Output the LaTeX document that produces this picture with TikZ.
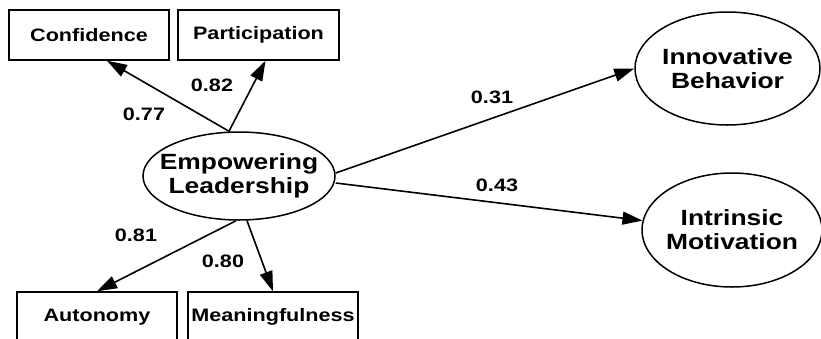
\documentclass[tikz,border=0pt]{standalone}
\usepackage{fontspec}
\setmainfont{Liberation Sans}[FakeStretch=1.2]
\usetikzlibrary{shapes.geometric,arrows.meta}
\tikzset{
  latent/.style={ellipse,draw,line width=1.5pt,inner xsep=-30pt,inner ysep=-15pt,align=center,
    font=\fontsize{22}{24}\selectfont\bfseries},
  indicator/.style={rectangle,draw,line width=1.5pt,minimum height=50pt,inner sep=0pt,
    font=\fontsize{18}{20}\selectfont\bfseries},
  loading/.style={-{Triangle[length=20pt,width=13pt]},line width=1.6pt},
  coef/.style={inner sep=0pt,font=\fontsize{18}{20}\selectfont\bfseries}
}
\begin{document}
\begin{tikzpicture}[x=1pt,y=-1pt]
\useasboundingbox (0,0) rectangle (821,338);
\begin{scope}[]
    \node[indicator,minimum width=160pt] (conf) at (89,35) {Confidence};
    \node[indicator,minimum width=161pt] (part) at (258.5,35) {Participation};
    \node[indicator,minimum width=160pt] (auto) at (97,317) {Autonomy};
    \node[indicator,minimum width=170pt] (mean) at (273,317) {Meaningfulness};
\end{scope}
\begin{scope}[]
    \node[latent,minimum width=192pt,minimum height=88pt] (emp) at (239,176) {Empowering\\Leadership};
    \node[latent,minimum width=185pt,minimum height=113pt] (inno) at (727.5,68.5) {Innovative\\Behavior};
    \node[latent,minimum width=180pt,minimum height=114pt] (intr) at (732,230) {Intrinsic\\Motivation};
\end{scope}
\draw[loading] ([xshift=-10pt]emp.north) -- ([xshift=18pt]conf.south);
\draw[loading] ([xshift=-10pt]emp.north) -- ([xshift=7pt]part.south);
\draw[loading] ([xshift=-3pt]emp.south) -- (auto.north);
\draw[loading] ([xshift=8pt]emp.south) -- (mean.north);
\draw[loading] ([yshift=3pt]emp.east) -- (inno.west);
\draw[loading] ([yshift=-7pt]emp.east) -- (intr.174);
\node[coef] (c77) at (144,114) {0.77};
\node[coef] (c82) at (212,85) {0.82};
\node[coef] (c81) at (136,235) {0.81};
\node[coef] (c80) at (223,261) {0.80};
\node[coef] (c31) at (492,97) {0.31};
\node[coef] (c43) at (497,185) {0.43};
\end{tikzpicture}
\end{document}
